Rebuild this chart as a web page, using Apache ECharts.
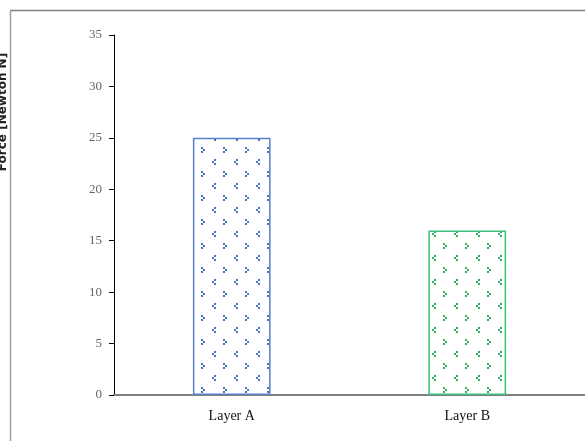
<!DOCTYPE html>
<html><head><meta charset="utf-8">
<script src="https://cdn.jsdelivr.net/npm/echarts@6/dist/echarts.min.js"></script>
<style>html,body{margin:0;padding:0;background:#fff}#c{width:585px;height:441px}</style>
</head><body><div id="c"></div>
<script>
const categories = ['Layer A', 'Layer B'];
const values = [25, 16];
const yTicks = [0, 5, 10, 15, 20, 25, 30, 35];
const yTitle = 'Force [Newton N]';

function makePattern(dot) {
  const c = document.createElement('canvas');
  c.width = 22; c.height = 24;
  const g = c.getContext('2d');
  g.fillStyle = '#ffffff';
  g.fillRect(0, 0, 22, 24);
  g.fillStyle = dot;
  [[3,3],[5,5],[3,7]].forEach(p => g.fillRect(p[0], p[1], 2, 2));
  [[16,15],[14,17],[16,19]].forEach(p => g.fillRect(p[0], p[1], 2, 2));
  return c;
}
const patA = makePattern('#4a74c0');
const patB = makePattern('#2fae66');

const chart = echarts.init(document.getElementById('c'));
chart.setOption({
  animation: false,
  backgroundColor: '#ffffff',
  grid: { left: 114, right: -1, top: 35, bottom: 46, containLabel: false },
  xAxis: {
    type: 'category', data: categories,
    axisLine: { lineStyle: { color: '#808080', width: 2 } },
    axisTick: { show: false },
    axisLabel: { color: '#111', fontFamily: 'Liberation Serif', fontSize: 14, margin: 14 }
  },
  yAxis: {
    type: 'value', min: yTicks[0], max: yTicks[yTicks.length - 1], interval: 5,
    axisLine: { show: true, lineStyle: { color: '#000', width: 1 } },
    axisTick: { show: true, length: 5, lineStyle: { color: '#000' } },
    axisLabel: { color: '#666', fontFamily: 'Liberation Serif', fontSize: 13, margin: 12 },
    splitLine: { show: false }
  },
  series: [{
    type: 'bar', barWidth: '33%',
    data: values.map((v, i) => ({
      value: v,
      itemStyle: {
        color: { image: i === 0 ? patA : patB, repeat: 'repeat' },
        borderColor: i === 0 ? '#5a80cc' : '#3cbf78', borderWidth: 1.5
      }
    }))
  }],
  graphic: [
    { type: 'line', shape: { x1: 10, y1: 10.5, x2: 585, y2: 10.5 }, style: { stroke: '#808080', lineWidth: 1.5 } },
    { type: 'line', shape: { x1: 10.5, y1: 10, x2: 10.5, y2: 441 }, style: { stroke: '#a0a0a0', lineWidth: 1.5 } },
    { type: 'text', x: 3, y: 112, rotation: Math.PI / 2,
      style: { text: yTitle, font: 'bold 12px "DejaVu Sans"', fill: '#222', align: 'center', verticalAlign: 'middle' } }
  ]
});
</script></body></html>
